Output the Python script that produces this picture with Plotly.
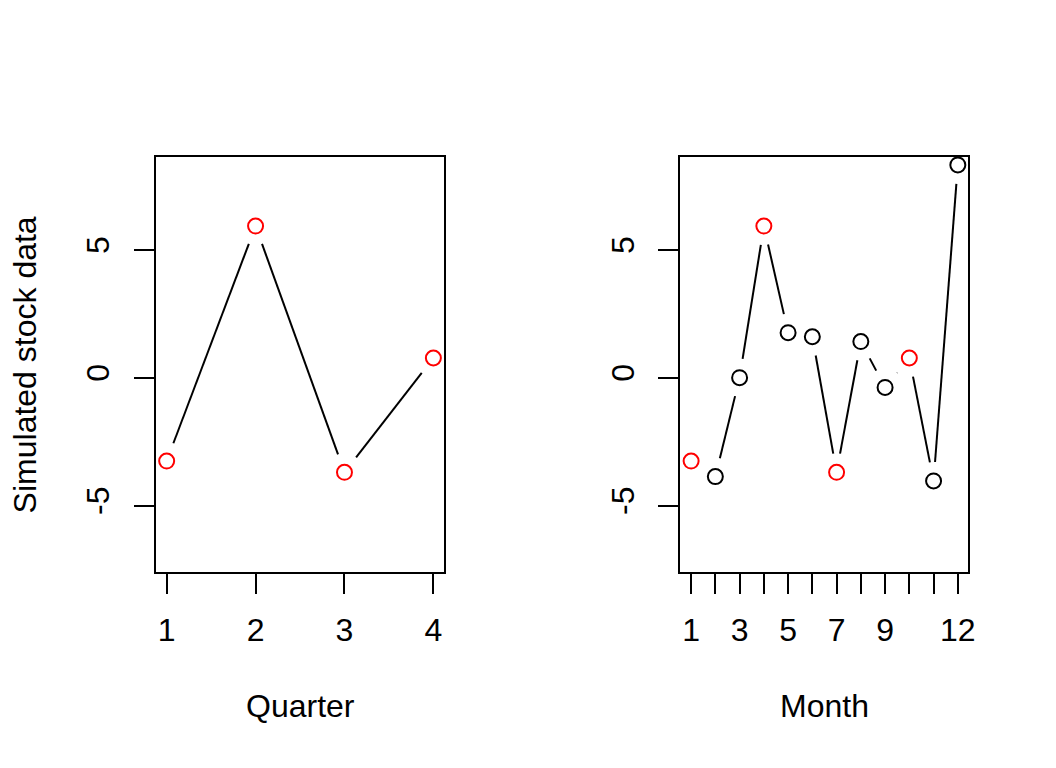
import math
import plotly.graph_objects as go

# values
quarters = [1, 2, 3, 4]
quarter_vals = [-3.26, 5.93, -3.70, 0.77]

months = list(range(1, 13))
month_vals = [-3.26, -3.87, 0.0, 5.93, 1.76, 1.60, -3.70, 1.41, -0.38, 0.77, -4.04, 8.32]
month_colors = ['red' if m in (1, 4, 7, 10) else 'black' for m in months]
month_labels = ['1', '', '3', '', '5', '', '7', '', '9', '', '', '12']

y_ticks = [-5, 0, 5]
y_labels = ['-5', '0', '5']
y_range = [-7.6, 8.63]

W, H = 1056, 768
OFF = 8  # page body margin in the browser
FW, FH = W - 2 * OFF, H - 2 * OFF


def px(x):
    return (x - OFF) / FW


def py(y):
    return 1 - (y - OFF) / FH


left_dom = [px(157), px(447)]
right_dom = [px(685), px(975)]
y_dom = [py(572), py(157)]

FONT = 'Liberation Sans, Arial, sans-serif'
FS = 32


def gapped(xs, ys, xr, dom_x, gap=19):
    # R type="b": segments stop short of each point
    sx = (dom_x[1] - dom_x[0]) * FW / (xr[1] - xr[0])
    sy = (y_dom[1] - y_dom[0]) * FH / (y_range[1] - y_range[0])
    gx, gy = [], []
    for i in range(len(xs) - 1):
        dx = (xs[i + 1] - xs[i]) * sx
        dy = (ys[i + 1] - ys[i]) * sy
        d = math.hypot(dx, dy)
        if d <= 2 * gap:
            continue
        f = gap / d
        gx += [xs[i] + (xs[i + 1] - xs[i]) * f, xs[i + 1] - (xs[i + 1] - xs[i]) * f, None]
        gy += [ys[i] + (ys[i + 1] - ys[i]) * f, ys[i + 1] - (ys[i + 1] - ys[i]) * f, None]
    return gx, gy


xr_left = [1 - 0.04 * 3, 4 + 0.04 * 3]
xr_right = [1 - 0.04 * 11, 12 + 0.04 * 11]

fig = go.Figure()

lx, ly = gapped(quarters, quarter_vals, xr_left, left_dom)
fig.add_trace(go.Scatter(x=lx, y=ly, mode='lines', line=dict(color='black', width=2),
                         xaxis='x', yaxis='y', hoverinfo='skip'))
fig.add_trace(go.Scatter(x=quarters, y=quarter_vals, mode='markers',
                         marker=dict(symbol='circle-open', size=15, color='red',
                                     line=dict(width=2, color='red')),
                         xaxis='x', yaxis='y'))

rx, ry = gapped(months, month_vals, xr_right, right_dom)
fig.add_trace(go.Scatter(x=rx, y=ry, mode='lines', line=dict(color='black', width=2),
                         xaxis='x2', yaxis='y2', hoverinfo='skip'))
fig.add_trace(go.Scatter(x=months, y=month_vals, mode='markers',
                         marker=dict(symbol='circle-open', size=15, color=month_colors,
                                     line=dict(width=2, color=month_colors)),
                         xaxis='x2', yaxis='y2'))

axis_style = dict(showline=True, mirror=True, linecolor='black', linewidth=2,
                  ticks='outside', ticklen=20, tickwidth=2, tickcolor='black',
                  showgrid=False, zeroline=False,
                  tickfont=dict(family=FONT, size=FS, color='black'))

fig.update_layout(
    width=FW, height=FH,
    margin=dict(l=0, r=0, t=0, b=0),
    paper_bgcolor='white', plot_bgcolor='white',
    showlegend=False,
    font=dict(family=FONT, size=FS, color='black'),
    xaxis=dict(domain=left_dom, range=xr_left, tickvals=quarters,
               ticktext=[str(q) for q in quarters], anchor='y',
               ticklabelstandoff=9, **axis_style),
    yaxis=dict(domain=y_dom, range=y_range, tickvals=y_ticks, ticktext=y_labels,
               tickangle=-90, anchor='x', ticklabelstandoff=12, **axis_style),
    xaxis2=dict(domain=right_dom, range=xr_right, tickvals=months,
                ticktext=month_labels, anchor='y2',
                ticklabelstandoff=9, **axis_style),
    yaxis2=dict(domain=y_dom, range=y_range, tickvals=y_ticks, ticktext=y_labels,
                tickangle=-90, anchor='x2', ticklabelstandoff=12, **axis_style),
    annotations=[
        dict(text='Quarter', x=sum(left_dom) / 2, y=py(705.5),
             xref='paper', yref='paper', xanchor='center', yanchor='middle', showarrow=False),
        dict(text='Month', x=sum(right_dom) / 2, y=py(705.5),
             xref='paper', yref='paper', xanchor='center', yanchor='middle', showarrow=False),
        dict(text='Simulated stock data', x=px(26), y=sum(y_dom) / 2,
             xref='paper', yref='paper', xanchor='center', yanchor='middle',
             textangle=-90, showarrow=False),
    ],
)

fig.write_html("out.html")
